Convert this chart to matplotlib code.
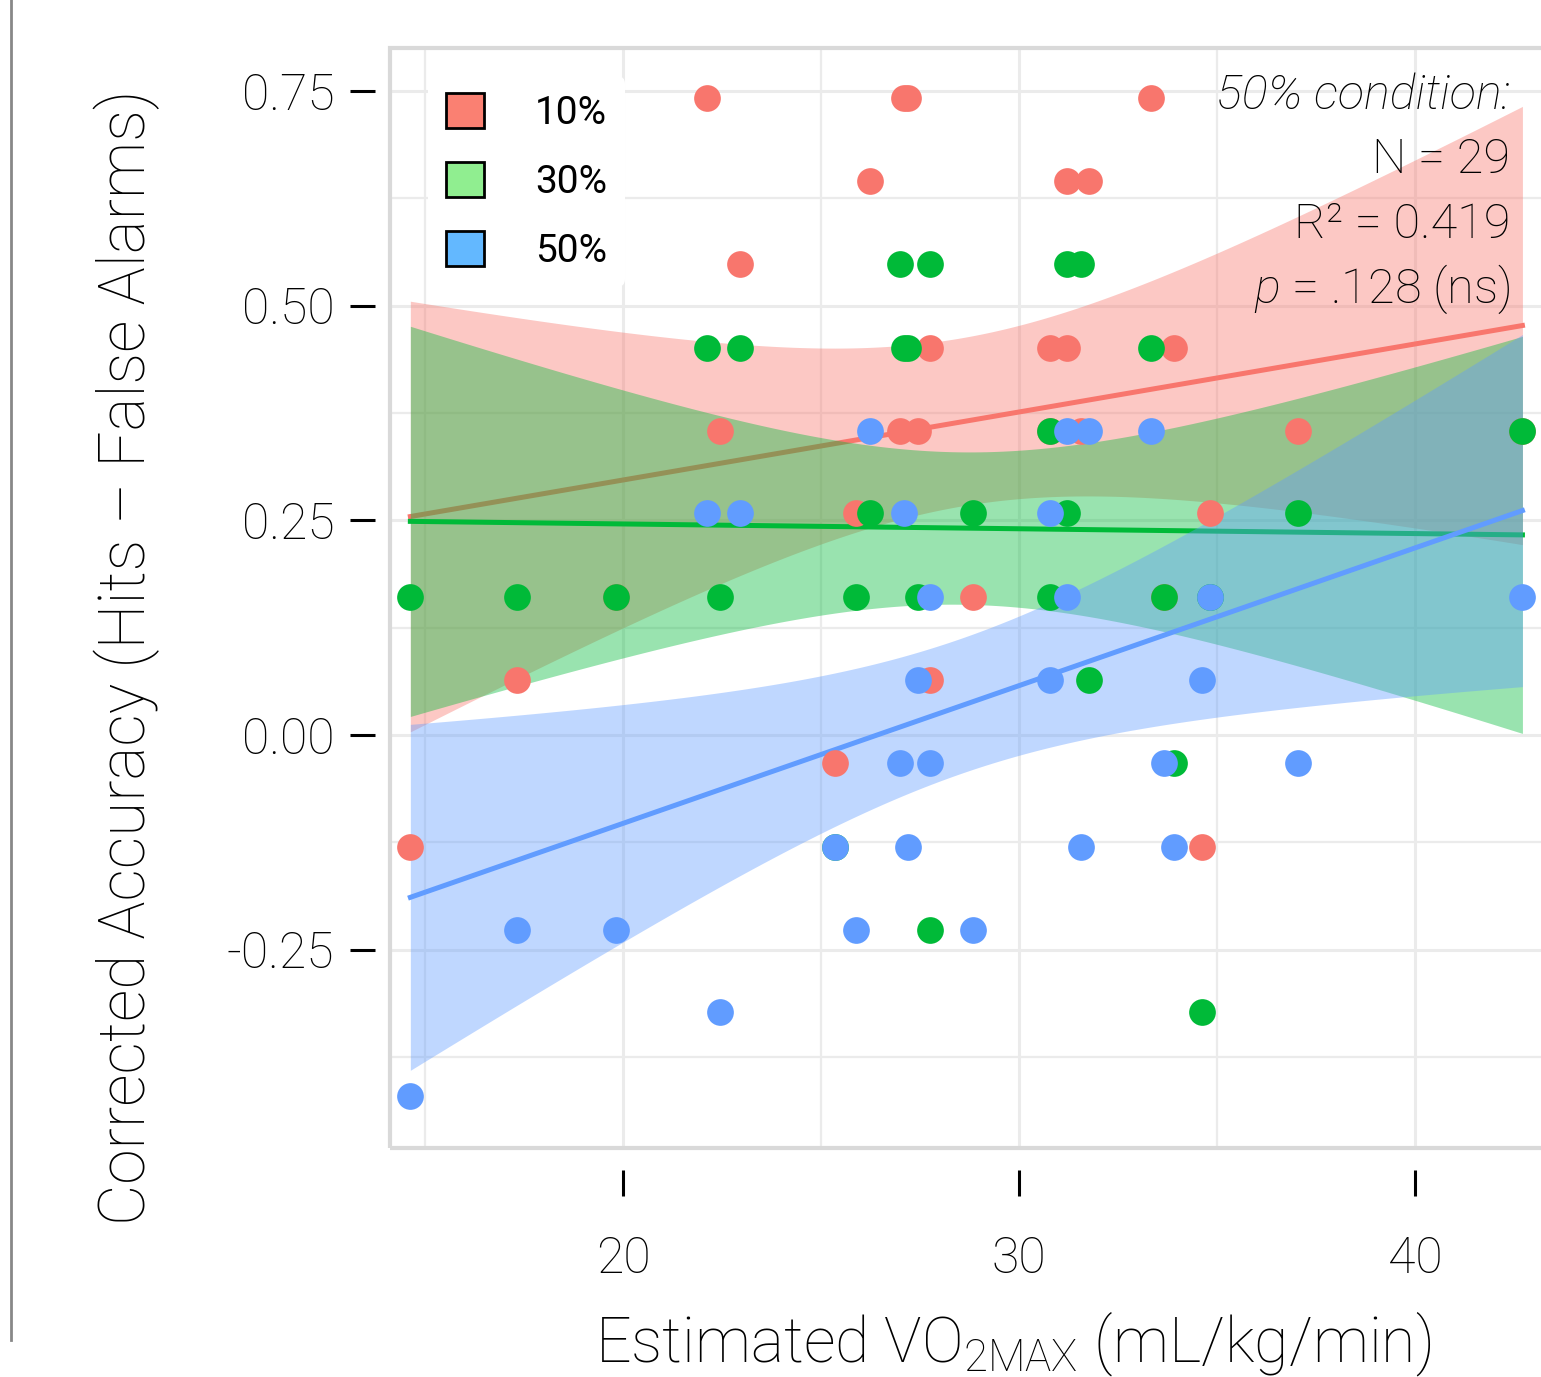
import numpy as np
import matplotlib
matplotlib.use("Agg")
import matplotlib.pyplot as plt
from matplotlib.patches import Patch, Rectangle
from matplotlib.lines import Line2D

# one entry per participant (N = 29)
vo2 = [14.63, 17.32, 19.82, 22.13, 22.46, 22.96, 25.34, 25.87, 26.23, 26.99,
       27.09, 27.19, 27.44, 27.75, 27.75, 28.84, 30.78, 30.78, 31.22, 31.22,
       31.57, 31.77, 33.34, 33.65, 33.90, 34.63, 34.81, 37.04, 42.71]
acc10 = [-0.130, 0.064, 0.161, 0.742, 0.354, 0.548, -0.033, 0.258, 0.645, 0.354,
         0.742, 0.742, 0.354, 0.451, 0.064, 0.161, 0.451, 0.354, 0.645, 0.451,
         0.354, 0.645, 0.742, 0.161, 0.451, -0.130, 0.258, 0.354, 0.354]
acc30 = [0.161, 0.161, 0.161, 0.451, 0.161, 0.451, -0.130, 0.161, 0.258, 0.548,
         0.451, 0.451, 0.161, 0.548, -0.227, 0.258, 0.354, 0.161, 0.548, 0.258,
         0.548, 0.064, 0.451, 0.161, -0.033, -0.323, 0.161, 0.258, 0.354]
acc50 = [-0.420, -0.227, -0.227, 0.258, -0.323, 0.258, -0.130, -0.227, 0.354, -0.033,
         0.258, -0.130, 0.064, 0.161, -0.033, -0.227, 0.258, 0.064, 0.354, 0.161,
         -0.130, 0.354, 0.354, -0.033, -0.130, 0.064, 0.161, -0.033, 0.161]

conditions = ["10%", "30%", "50%"]
point_colors = ["#F8766D", "#00BA38", "#619CFF"]
legend_colors = ["#FA8072", "#90EE90", "#63B8FF"]
stats_lines = ["50% condition:", "N = 29", "R² = 0.419", r"$\it{p}$ = .128 (ns)"]

plt.rcParams['font.family'] = ['Roboto', 'DejaVu Sans']
plt.rcParams['font.weight'] = 'light'
plt.rcParams['mathtext.fontset'] = 'custom'
plt.rcParams['mathtext.rm'] = 'Roboto:light'
plt.rcParams['mathtext.it'] = 'Roboto:italic:light'


def lm_band(x, y, xs, t=2.052):
    n = len(x)
    b, a = np.polyfit(x, y, 1)
    s = np.sqrt(np.sum((y - (a + b * x)) ** 2) / (n - 2))
    sxx = np.sum((x - x.mean()) ** 2)
    se = s * np.sqrt(1 / n + (xs - x.mean()) ** 2 / sxx)
    yhat = a + b * xs
    return yhat, yhat - t * se, yhat + t * se


W, H = 1541, 1377
fig = plt.figure(figsize=(W / 100, H / 100), dpi=100)
ax = fig.add_axes([390 / W, 1 - 1148 / H, 1155 / W, 1100 / H])

x = np.array(vo2)
xs = np.linspace(x.min(), x.max(), 200)
for ys, col in zip([acc10, acc30, acc50], point_colors):
    yhat, lo, hi = lm_band(x, np.array(ys), xs)
    ax.fill_between(xs, lo, hi, color=col, alpha=0.4, lw=0, zorder=2)
    ax.plot(xs, yhat, color=col, lw=3.6, zorder=2)

for ys, col in zip([acc10, acc30, acc50], point_colors):
    ax.scatter(x, ys, s=370, color=col, lw=0, zorder=3)

ax.set_xlim(14.116, 43.28)
ax.set_ylim(-0.4808, 0.7998)

ax.set_xticks([20, 30, 40])
ax.set_xticks([15, 25, 35], minor=True)
ax.set_yticks([-0.25, 0, 0.25, 0.5, 0.75])
ax.set_yticklabels(["-0.25", "0.00", "0.25", "0.50", "0.75"])
ax.set_yticks([-0.375, -0.125, 0.125, 0.375, 0.625], minor=True)
ax.grid(which='major', color='#ebebeb', lw=2.2)
ax.grid(which='minor', color='#ebebeb', lw=1.6)
ax.set_axisbelow(True)
ax.tick_params(which='minor', length=0)
ax.tick_params(axis='y', which='major', length=18, width=2.2, pad=11, labelsize=36)
ax.tick_params(axis='x', which='major', length=19, width=2.2, pad=28, labelsize=36)

for side in ax.spines:
    ax.spines[side].set_visible(False)
ax.spines['left'].set_position(('outward', 11))
ax.spines['bottom'].set_position(('outward', 16))
ax.add_patch(Rectangle((0, 0), 1, 1, transform=ax.transAxes, fill=False,
                       edgecolor='#d9d9d9', lw=3, clip_on=False, zorder=5))

handles = [Patch(facecolor=c, edgecolor='black', lw=2) for c in legend_colors]
leg = ax.legend(handles, conditions, loc='upper left', bbox_to_anchor=(38 / 1155, 1 - 28 / 1100),
                borderaxespad=0, prop={'size': 28, 'weight': 'normal'},
                handlelength=1.0, handleheight=1.0,
                handletextpad=1.3, labelspacing=0.77, borderpad=0.45,
                frameon=True, facecolor='white', edgecolor='none', framealpha=1)
leg.set_zorder(6)

for i, line in enumerate(stats_lines):
    style = 'italic' if i == 0 else 'normal'
    ax.text(0.970, 0.957 - i * 0.0588, line, transform=ax.transAxes, ha='right', va='center',
            fontsize=35, style=style, zorder=7)

fig.text(127 / W, 1 - 657 / H, "Corrected Accuracy (Hits – False Alarms)", rotation=90,
         ha='center', va='center', fontsize=46)
fig.text(1013 / W, 1 - 1362 / H, r"Estimated VO$_{\mathregular{2MAX}}$ (mL/kg/min)",
         ha='center', va='baseline', fontsize=45)

fig.add_artist(Line2D([11 / W, 11 / W], [1 - 1340 / H, 1], color='#888888', lw=2))

fig.savefig("out.png", dpi=100)
